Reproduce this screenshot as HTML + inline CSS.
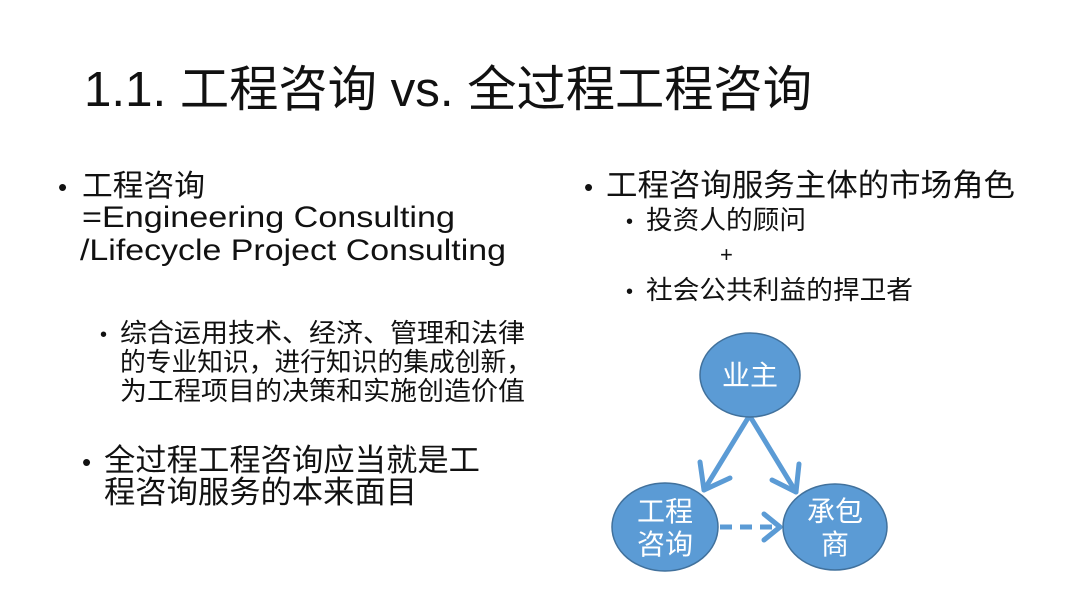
<!DOCTYPE html>
<html><head><meta charset="utf-8"><style>
html,body{margin:0;padding:0;background:#fff;}
svg{display:block;font-family:"Liberation Sans","Noto Sans CJK SC",sans-serif;}
</style></head><body>
<svg width="1080" height="607" viewBox="0 0 1080 607" xmlns="http://www.w3.org/2000/svg">
<rect width="1080" height="607" fill="#fff"/>
<g fill="#111">
<text x="84" y="106" font-size="49" textLength="728" lengthAdjust="spacingAndGlyphs">1.1. 工程咨询 vs. 全过程工程咨询</text>
<text x="58" y="196" font-size="26">•</text>
<text x="82" y="196" font-size="30" textLength="123" lengthAdjust="spacingAndGlyphs">工程咨询</text>
<text x="82" y="227" font-size="30" textLength="373" lengthAdjust="spacingAndGlyphs">=Engineering Consulting</text>
<text x="80" y="260" font-size="30" textLength="426" lengthAdjust="spacingAndGlyphs">/Lifecycle Project Consulting</text>
<text x="100" y="341" font-size="20">•</text>
<text x="120" y="342" font-size="26" textLength="405" lengthAdjust="spacingAndGlyphs">综合运用技术、经济、管理和法律</text>
<text x="120" y="371" font-size="26" textLength="412" lengthAdjust="spacingAndGlyphs">的专业知识，进行知识的集成创新，</text>
<text x="120" y="400" font-size="26" textLength="405" lengthAdjust="spacingAndGlyphs">为工程项目的决策和实施创造价值</text>
<text x="82" y="471" font-size="26">•</text>
<text x="104" y="471" font-size="31" textLength="376" lengthAdjust="spacingAndGlyphs">全过程工程咨询应当就是工</text>
<text x="104" y="503" font-size="31" textLength="313" lengthAdjust="spacingAndGlyphs">程咨询服务的本来面目</text>
<text x="584" y="196" font-size="26">•</text>
<text x="606" y="196" font-size="31" textLength="409" lengthAdjust="spacingAndGlyphs">工程咨询服务主体的市场角色</text>
<text x="626" y="228" font-size="20">•</text>
<text x="646" y="229" font-size="26" textLength="160" lengthAdjust="spacingAndGlyphs">投资人的顾问</text>
<text x="720" y="262" font-size="22">+</text>
<text x="626" y="298" font-size="20">•</text>
<text x="646" y="299" font-size="26" textLength="267" lengthAdjust="spacingAndGlyphs">社会公共利益的捍卫者</text>
</g>
<g stroke="#5b9bd5" stroke-width="5" fill="none" stroke-linecap="round" stroke-linejoin="round">
<line x1="748" y1="418" x2="704" y2="490"/>
<polyline points="700,462 704,490 730,478"/>
<line x1="751" y1="418" x2="796" y2="492"/>
<polyline points="772,480 796,492 799,464"/>
<line x1="720" y1="527" x2="778" y2="527" stroke-dasharray="12,8" stroke-linecap="butt"/>
<polyline points="764,514 780,527 764,540"/>
</g>
<g fill="#5b9bd5" stroke="#41719c" stroke-width="1.5">
<ellipse cx="750" cy="375" rx="50" ry="42"/>
<ellipse cx="665" cy="527" rx="53" ry="44"/>
<ellipse cx="835" cy="527" rx="52" ry="43"/>
</g>
<g fill="#fff" font-size="28" text-anchor="middle">
<text x="750" y="385">业主</text>
<text x="665" y="521">工程</text>
<text x="665" y="554">咨询</text>
<text x="835" y="521">承包</text>
<text x="835" y="554">商</text>
</g>
</svg>
</body></html>
